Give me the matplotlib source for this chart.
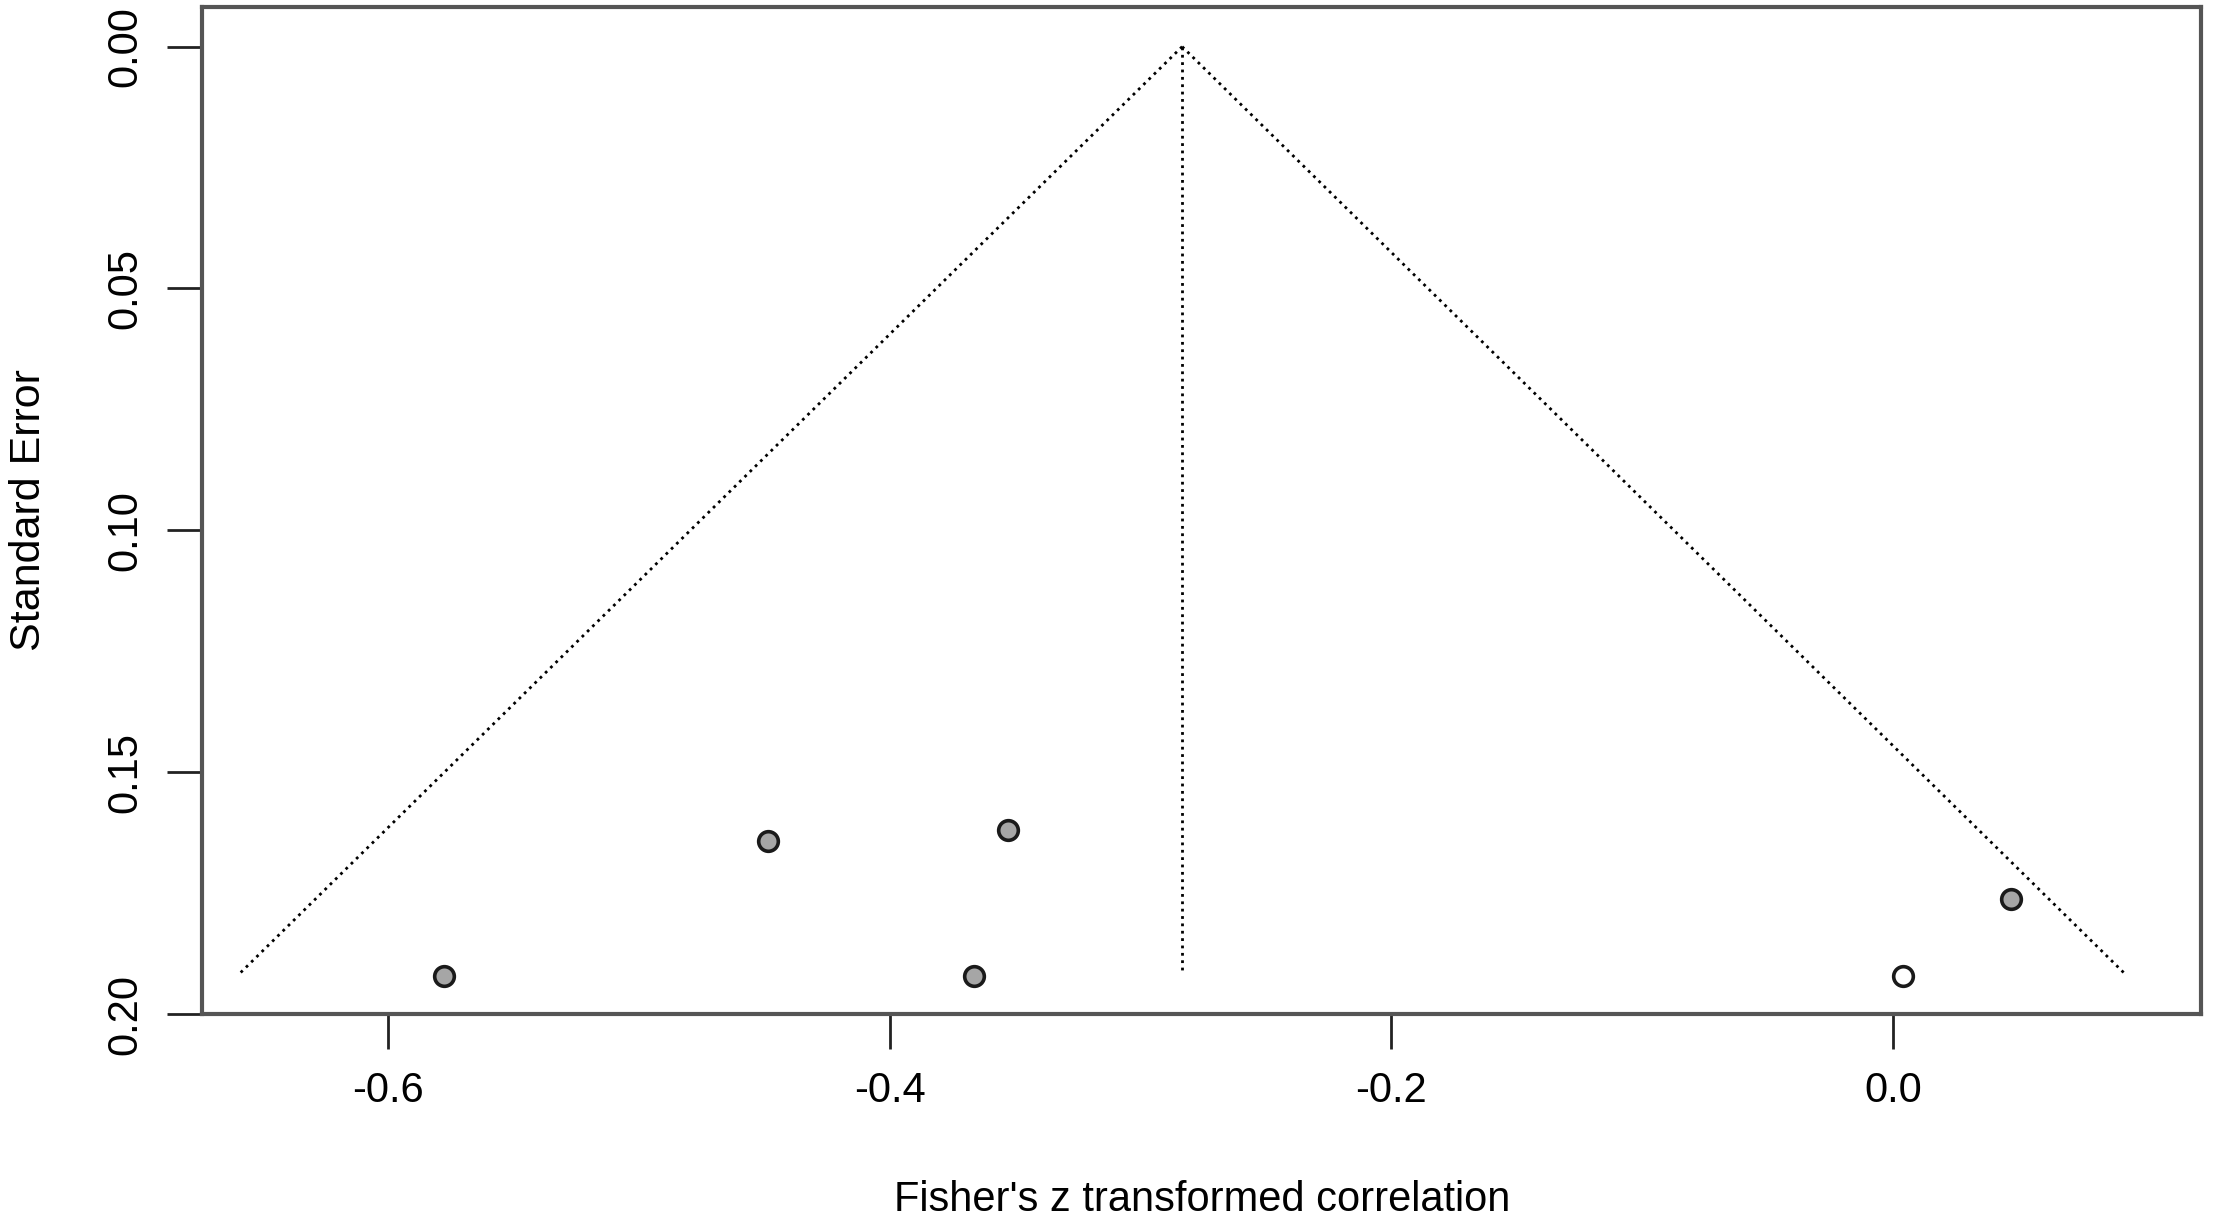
# Funnel plot of Fisher's z transformed correlations

import matplotlib.pyplot as plt
import numpy as np

# study estimates
yi = [-0.5775, -0.4485, -0.3527, -0.3662, 0.0468, 0.0039]
sei = [0.1922, 0.1643, 0.1620, 0.1922, 0.1763, 0.1922]
filled = [True, True, True, True, True, False]

est = -0.2834      # pooled estimate
se_max = 0.1916    # funnel depth

xticks = [-0.6, -0.4, -0.2, 0.0]
yticks = [0.00, 0.05, 0.10, 0.15, 0.20]

plt.rcParams['font.family'] = ['Liberation Sans', 'DejaVu Sans']

fig = plt.figure(figsize=(22.17, 12.25), dpi=100)
ax = fig.add_axes([0.0911, 0.1722, 0.9019, 0.8221])

# funnel
se_line = np.array([0.0, se_max])
ax.plot(est - 1.96 * se_line, se_line, color='black', ls=':', lw=2.0)
ax.plot(est + 1.96 * se_line, se_line, color='black', ls=':', lw=2.0)
ax.plot([est, est], [0.0, se_max], color='black', ls=':', lw=2.0)

for x, s, f in zip(yi, sei, filled):
    ax.scatter(x, s, s=200, facecolor='#a6a6a6' if f else 'white',
               edgecolor='#1a1a1a', linewidth=2.6, zorder=3)

ax.set_xlim(-0.674, 0.1228)
ax.set_ylim(0.20, -0.0082)
ax.set_xticks(xticks)
ax.set_xticklabels([f"{t:.1f}" for t in xticks])
ax.set_yticks(yticks)
ax.set_yticklabels([f"{t:.2f}" for t in yticks], rotation=90, va='center')

for sp in ax.spines.values():
    sp.set_linewidth(3)
    sp.set_color('#555555')

ax.tick_params(axis='both', length=25, width=2, color='#222222', pad=16, labelsize=30)
ax.set_xlabel("Fisher's z transformed correlation", fontsize=30, labelpad=50)
ax.set_ylabel("Standard Error", fontsize=31, labelpad=40)

plt.savefig("out.png", dpi=100)
